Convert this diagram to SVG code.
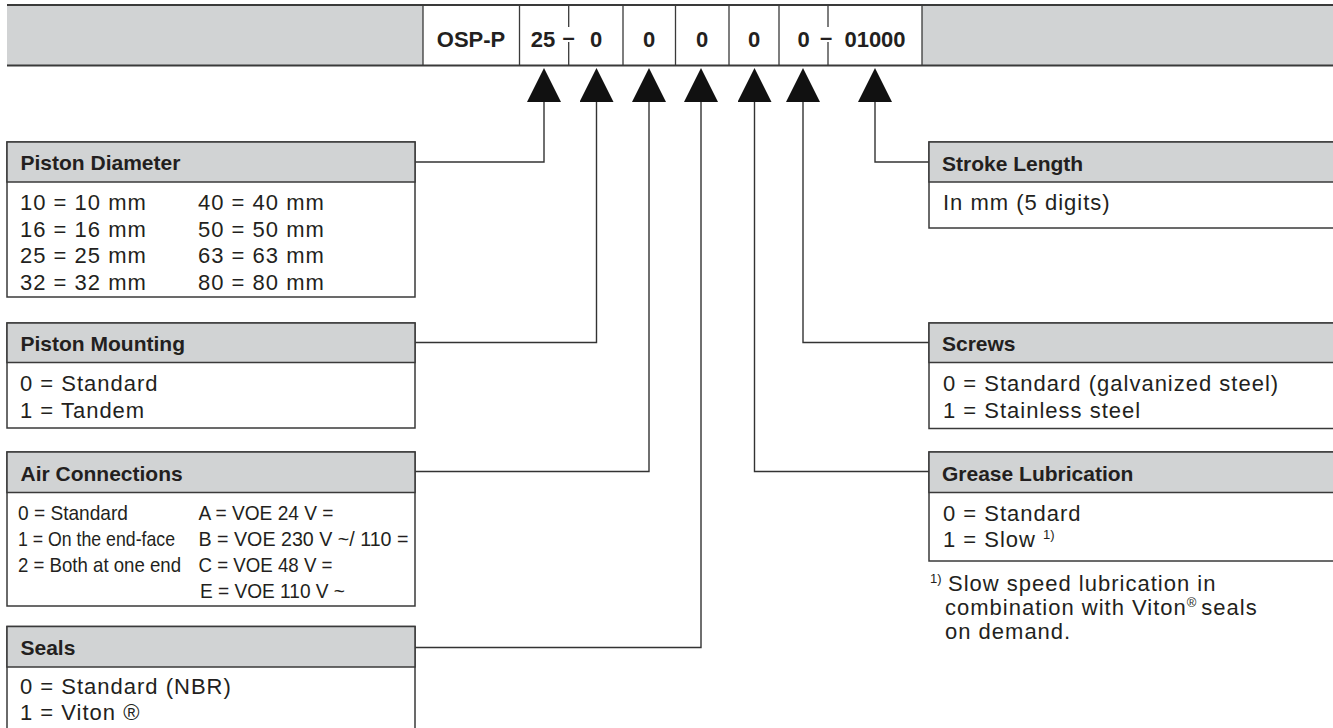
<svg xmlns="http://www.w3.org/2000/svg" width="1333" height="728" viewBox="0 0 1333 728">
<style>
text{font-family:"Liberation Sans",Arial,sans-serif;fill:#231f20}
.hd{font-size:22px;font-weight:bold;text-anchor:middle}
.ttl{font-size:21px;font-weight:bold}
.bd{font-size:22px;letter-spacing:1px}
.cd{font-size:21px}
.sup{font-size:13px}
.box{fill:#fff;stroke:#3a3a3a;stroke-width:1.5}
.hdr{fill:#d1d3d4;stroke:#3a3a3a;stroke-width:1.5}
.grey{fill:#d1d3d4}
.ln{stroke:#3a3a3a;stroke-width:2;fill:none}
.sep{stroke:#3a3a3a;stroke-width:1.3;fill:none}
.conn{fill:none;stroke:#333;stroke-width:1.4;marker-start:url(#arr)}
</style>
<defs>
<marker id="arr" viewBox="0 0 34 34" markerWidth="34" markerHeight="34" refX="34" refY="17" orient="auto" markerUnits="userSpaceOnUse">
<path d="M34,0 L0,17 L34,34 Z" fill="#111"/>
</marker>
</defs>

<g id="codebar">
<rect class="grey" x="7" y="5" width="416" height="60.5"/>
<rect x="423" y="5" width="499" height="60.5" fill="#fff"/>
<rect class="grey" x="922" y="5" width="411" height="60.5"/>
<line class="ln" x1="7" y1="5" x2="1333" y2="5"/>
<line class="ln" x1="7" y1="65.5" x2="1333" y2="65.5"/>
<path class="sep" d="M423,5V65.5 M519.5,5V65.5 M623,5V65.5 M675.5,5V65.5 M729,5V65.5 M779,5V65.5 M922,5V65.5"/>
<path class="sep" d="M568.7,5V27 M568.7,42V65.5 M828,5V27 M828,42V65.5"/>
<text class="hd" x="471" y="47">OSP-P</text>
<text class="hd" x="543" y="47">25</text>
<text class="hd" x="568.5" y="45">–</text>
<text class="hd" x="596" y="47">0</text>
<text class="hd" x="649" y="47">0</text>
<text class="hd" x="702" y="47">0</text>
<text class="hd" x="754" y="47">0</text>
<text class="hd" x="803.5" y="47">0</text>
<text class="hd" x="826" y="45">–</text>
<text class="hd" x="875" y="47">01000</text>
</g>

<g id="connectors">
<path class="conn" d="M544,102 V162 H415"/>
<path class="conn" d="M596.5,102 V342.5 H415"/>
<path class="conn" d="M649,102 V471.5 H415"/>
<path class="conn" d="M701,102 V647.5 H415"/>
<path class="conn" d="M754.5,102 V471.5 H929"/>
<path class="conn" d="M803,102 V342.5 H929"/>
<path class="conn" d="M875,102 V162 H929"/>
</g>

<g id="piston-diameter">
<rect class="box" x="7" y="142" width="408" height="155"/>
<rect class="hdr" x="7" y="142" width="408" height="40"/>
<text class="ttl" x="20.5" y="170">Piston Diameter</text>
<text class="bd" x="20" y="210">10 = 10 mm</text>
<text class="bd" x="20" y="236.5">16 = 16 mm</text>
<text class="bd" x="20" y="263">25 = 25 mm</text>
<text class="bd" x="20" y="289.5">32 = 32 mm</text>
<text class="bd" x="198" y="210">40 = 40 mm</text>
<text class="bd" x="198" y="236.5">50 = 50 mm</text>
<text class="bd" x="198" y="263">63 = 63 mm</text>
<text class="bd" x="198" y="289.5">80 = 80 mm</text>
</g>

<g id="piston-mounting">
<rect class="box" x="7" y="323" width="408" height="105"/>
<rect class="hdr" x="7" y="323" width="408" height="39.5"/>
<text class="ttl" x="20.5" y="351">Piston Mounting</text>
<text class="bd" x="20" y="391">0 = Standard</text>
<text class="bd" x="20" y="417.5">1 = Tandem</text>
</g>

<g id="air-connections">
<rect class="box" x="7" y="452" width="408" height="154"/>
<rect class="hdr" x="7" y="452" width="408" height="40.5"/>
<text class="ttl" x="20.5" y="481">Air Connections</text>
<text class="cd" x="18" y="520" textLength="110" lengthAdjust="spacingAndGlyphs">0 = Standard</text>
<text class="cd" x="18" y="546" textLength="157" lengthAdjust="spacingAndGlyphs">1 = On the end-face</text>
<text class="cd" x="18" y="572" textLength="163" lengthAdjust="spacingAndGlyphs">2 = Both at one end</text>
<text class="cd" x="198.5" y="520" textLength="135" lengthAdjust="spacingAndGlyphs">A = VOE 24 V =</text>
<text class="cd" x="198.5" y="546" textLength="210" lengthAdjust="spacingAndGlyphs">B = VOE 230 V ~/ 110 =</text>
<text class="cd" x="198.5" y="572" textLength="134" lengthAdjust="spacingAndGlyphs">C = VOE 48 V =</text>
<text class="cd" x="200" y="598" textLength="145" lengthAdjust="spacingAndGlyphs">E = VOE 110 V ~</text>
</g>

<g id="seals">
<rect class="box" x="7" y="626.5" width="408" height="120"/>
<rect class="hdr" x="7" y="626.5" width="408" height="40.5"/>
<text class="ttl" x="20.5" y="655">Seals</text>
<text class="bd" x="20" y="693.5">0 = Standard (NBR)</text>
<text class="bd" x="20" y="719.5">1 = Viton ®</text>
</g>

<g id="stroke-length">
<rect class="box" x="929" y="142" width="420" height="86"/>
<rect class="hdr" x="929" y="142" width="420" height="40"/>
<text class="ttl" x="942" y="171">Stroke Length</text>
<text class="bd" x="943" y="210">In mm (5 digits)</text>
</g>

<g id="screws">
<rect class="box" x="929" y="323" width="420" height="105.5"/>
<rect class="hdr" x="929" y="323" width="420" height="39.5"/>
<text class="ttl" x="942" y="351">Screws</text>
<text class="bd" x="943" y="391">0 = Standard (galvanized steel)</text>
<text class="bd" x="943" y="417.5">1 = Stainless steel</text>
</g>

<g id="grease-lubrication">
<rect class="box" x="929" y="452" width="420" height="109"/>
<rect class="hdr" x="929" y="452" width="420" height="40.5"/>
<text class="ttl" x="942" y="481">Grease Lubrication</text>
<text class="bd" x="943" y="520.5">0 = Standard</text>
<text class="bd" x="943" y="546.5">1 = Slow <tspan class="sup" dy="-8" style="letter-spacing:0">1)</tspan></text>
</g>

<g id="footnote">
<text class="sup" x="930" y="583">1)</text>
<text class="bd" x="948" y="591">Slow speed lubrication in</text>
<text class="bd" x="945" y="615">combination with Viton<tspan class="sup" dy="-8" style="letter-spacing:0">®</tspan><tspan dy="8" dx="5">seals</tspan></text>
<text class="bd" x="945" y="639">on demand.</text>
</g>
</svg>
